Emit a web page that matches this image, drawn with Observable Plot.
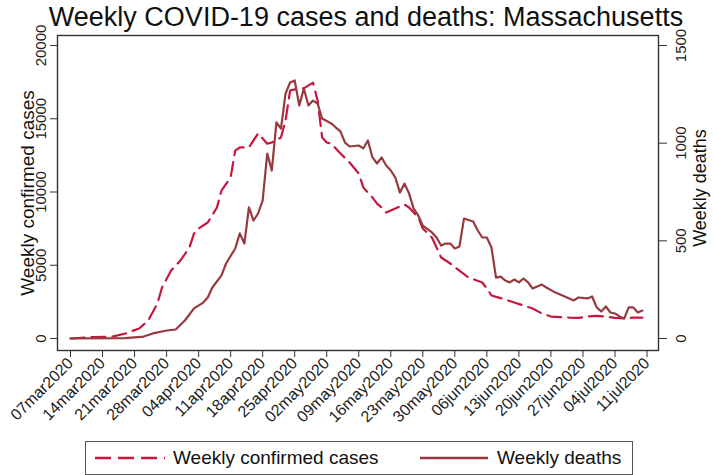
<!DOCTYPE html>
<html><head><meta charset="utf-8">
<script src="https://cdn.jsdelivr.net/npm/d3@7"></script>
<script src="https://cdn.jsdelivr.net/npm/@observablehq/plot@0.6"></script>
<style>
body{margin:0;background:#fff;font-family:"Liberation Sans",Arial,sans-serif;}
#wrap{position:relative;width:713px;height:475px;overflow:hidden;background:#fff;}
#chart{position:absolute;left:0;top:0;}
#title{position:absolute;left:0;width:732px;top:1px;text-align:center;font-size:27px;line-height:32px;color:#111;white-space:nowrap;}
#legend{position:absolute;left:85px;top:441px;width:548px;height:34px;border:1px solid #555;box-sizing:border-box;font-size:19px;color:#111;}
#legend .item{position:absolute;top:0;height:32px;line-height:32px;white-space:nowrap;}
#legend svg{position:absolute;top:0;}
</style></head><body>
<div id="wrap"><div id="chart"></div><div id="title">Weekly COVID-19 cases and deaths: Massachusetts</div><div id="legend"></div></div>
<script>
// ---- data ----
const caseDates = ["2020-03-07","2020-03-12","2020-03-16","2020-03-19","2020-03-22","2020-03-24","2020-03-26","2020-03-27","2020-03-29","2020-03-31",
"2020-04-02","2020-04-03","2020-04-04","2020-04-06","2020-04-08","2020-04-09","2020-04-11","2020-04-12","2020-04-13","2020-04-15","2020-04-17","2020-04-19","2020-04-20","2020-04-22","2020-04-23","2020-04-24","2020-04-26","2020-04-27","2020-04-29","2020-04-30",
"2020-05-01","2020-05-02","2020-05-03","2020-05-05","2020-05-07","2020-05-09","2020-05-10","2020-05-12","2020-05-13","2020-05-14","2020-05-15","2020-05-17","2020-05-19","2020-05-20","2020-05-22","2020-05-23","2020-05-25","2020-05-26","2020-05-27","2020-05-29","2020-05-31",
"2020-06-02","2020-06-05","2020-06-06","2020-06-07","2020-06-10","2020-06-12","2020-06-14","2020-06-16","2020-06-18","2020-06-20","2020-06-24","2020-06-26","2020-06-28","2020-06-30",
"2020-07-02","2020-07-04","2020-07-06","2020-07-08","2020-07-10"];
const caseValues = [0,100,120,340,680,1230,2390,3480,4640,5320,
6210,7170,7510,7920,8940,10100,11000,12830,13040,13040,14000,13300,13380,13720,14880,16930,17070,17070,17470,16250,
13720,13380,13300,12630,12010,11260,10310,9620,9210,8940,8600,8870,9150,8940,8260,7510,6890,6210,5530,5120,4640,
4160,3820,3410,2940,2660,2460,2250,2050,1710,1500,1430,1410,1500,1550,
1500,1410,1370,1430,1430];

const deathDates = ["2020-03-07","2020-03-19","2020-03-23","2020-03-25","2020-03-28","2020-03-30",
"2020-04-01","2020-04-03","2020-04-05","2020-04-06","2020-04-07","2020-04-09","2020-04-10","2020-04-12","2020-04-13","2020-04-14","2020-04-15","2020-04-16","2020-04-17","2020-04-18","2020-04-19","2020-04-20","2020-04-21","2020-04-22","2020-04-23","2020-04-24","2020-04-25","2020-04-26","2020-04-27","2020-04-28","2020-04-29","2020-04-30",
"2020-05-01","2020-05-03","2020-05-04","2020-05-05","2020-05-06","2020-05-07","2020-05-09","2020-05-10","2020-05-11","2020-05-12","2020-05-13","2020-05-14","2020-05-15","2020-05-16","2020-05-17","2020-05-18","2020-05-19","2020-05-20","2020-05-21","2020-05-22","2020-05-23","2020-05-25","2020-05-26","2020-05-27","2020-05-28","2020-05-29","2020-05-30","2020-05-31",
"2020-06-01","2020-06-03","2020-06-04","2020-06-05","2020-06-06","2020-06-07","2020-06-08","2020-06-09","2020-06-10","2020-06-11","2020-06-12","2020-06-13","2020-06-14","2020-06-15","2020-06-16","2020-06-18","2020-06-19","2020-06-21","2020-06-22","2020-06-24","2020-06-25","2020-06-26","2020-06-28","2020-06-29","2020-06-30",
"2020-07-01","2020-07-02","2020-07-03","2020-07-04","2020-07-05","2020-07-06","2020-07-07","2020-07-08","2020-07-09","2020-07-10"];
const deathValues = [0,2,10,26,41,46,
92,154,184,210,261,323,384,461,538,486,671,604,640,707,947,860,1106,1075,1254,1311,1321,1193,1280,1193,1218,1203,
1126,1101,1080,1060,1003,983,988,973,1014,927,896,927,886,860,824,747,793,742,665,630,578,543,517,476,486,486,461,471,
614,599,553,517,517,466,312,317,297,287,302,287,307,287,256,276,261,235,225,205,195,210,205,215,159,
138,164,133,128,113,102,159,159,133,143];

const tickLabels = ["07mar2020","14mar2020","21mar2020","28mar2020","04apr2020","11apr2020","18apr2020","25apr2020","02may2020","09may2020","16may2020","23may2020","30may2020","06jun2020","13jun2020","20jun2020","27jun2020","04jul2020","11jul2020"];
const leftTicks = [0,5000,10000,15000,20000];
const rightTicks = [0,500,1000,1500];
const seriesNames = ["Weekly confirmed cases","Weekly deaths"];
const colors = ["#c8173f","#963a40"];

// ---- build ----
const parseISO = d3.utcParse("%Y-%m-%d");
const parseTick = d3.utcParse("%d%b%Y");
const fmtTick = d => d3.utcFormat("%d%b%Y")(d).toLowerCase();
const cases = caseDates.map((d,i)=>({date:parseISO(d), value:caseValues[i]}));
const deaths = deathDates.map((d,i)=>({date:parseISO(d), value:deathValues[i]}));
const tickDates = tickLabels.map(parseTick);
const k = 20000/1500; // right axis mapping (deaths -> cases scale)
const day = 864e5;
const xDomain = [new Date(+tickDates[0] - 2.84*day), new Date(+tickDates[tickDates.length-1] + 2.51*day)];

const chart = Plot.plot({
  width:713, height:435,
  marginLeft:57, marginRight:55, marginTop:35, marginBottom:85,
  x:{type:"utc", domain:xDomain, axis:null},
  y:{domain:[-819,20683], axis:null},
  style:{fontFamily:"'Liberation Sans', Arial, sans-serif", color:"#222", background:"white", overflow:"visible"},
  marks:[
    Plot.axisY(leftTicks, {anchor:"left", tickSize:7, tickPadding:5, tickRotate:-90, fontSize:15, tickFormat:d3.format("d"), label:null, stroke:"#333"}),
    Plot.axisY(rightTicks.map(v=>v*k), {anchor:"right", tickSize:8, tickPadding:9, tickRotate:-90, lineAnchor:"top", fontSize:15, tickFormat:v=>String(Math.round(v/k)), label:null, stroke:"#333"}),
    Plot.axisX(tickDates, {anchor:"bottom", tickSize:7, tickPadding:3, tickRotate:-45, fontSize:16, tickFormat:fmtTick, label:null, stroke:"#333"}),
    Plot.line(cases, {x:"date", y:"value", stroke:colors[0], strokeWidth:2.2, strokeDasharray:"14,7"}),
    Plot.line(deaths, {x:"date", y:d=>d.value*k, stroke:colors[1], strokeWidth:2.2}),
    Plot.frame({stroke:"#333", strokeWidth:1.4}),
    Plot.text([seriesNames[0]], {frameAnchor:"left", textAnchor:"middle", rotate:-90, dx:-24, lineAnchor:"bottom", fontSize:19, fill:"#111"}),
    Plot.text([seriesNames[1]], {frameAnchor:"right", textAnchor:"middle", rotate:-90, dx:35, dy:-5, lineAnchor:"top", fontSize:18, fill:"#111"})
  ]
});
document.getElementById("chart").appendChild(chart);

// legend
const lg = document.getElementById("legend");
lg.innerHTML = `
<svg width="70" height="32" style="left:9px"><line x1="0" x2="70" y1="16" y2="16" stroke="${colors[0]}" stroke-width="2.5" stroke-dasharray="16,7"/></svg>
<div class="item" style="left:87px">${seriesNames[0]}</div>
<svg width="68" height="32" style="left:334px"><line x1="0" x2="68" y1="16" y2="16" stroke="${colors[1]}" stroke-width="2.5"/></svg>
<div class="item" style="left:411px">${seriesNames[1]}</div>`;
</script>
</body></html>
